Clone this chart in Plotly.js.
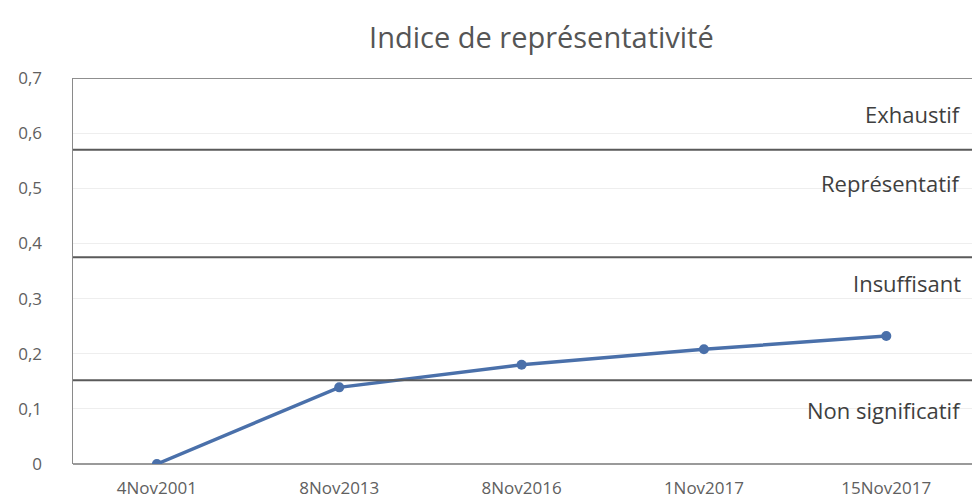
<!DOCTYPE html>
<html>
<head>
<meta charset="utf-8">
<script src="https://cdn.plot.ly/plotly-3.0.1.min.js"></script>
<style>html,body{margin:0;padding:0;background:#fff;}#chart{width:972px;height:504px;}</style>
</head>
<body>
<div id="chart"></div>
<script>
const categories = ["4Nov2001", "8Nov2013", "8Nov2016", "1Nov2017", "15Nov2017"];
const indice = [0, 0.139, 0.180, 0.208, 0.232];
const seuils = [0.152, 0.375, 0.57];
const zones = ["Non significatif", "Insuffisant", "Représentatif", "Exhaustif"];
const zoneLabelY = [0.098, 0.329, 0.509, 0.635];
const yTicks = [0, 0.1, 0.2, 0.3, 0.4, 0.5, 0.6, 0.7];

const font = "'Open Sans', 'Noto Sans', sans-serif";

const trace = {
  x: [0, 1, 2, 3, 4],
  y: indice,
  type: "scatter",
  mode: "lines+markers",
  line: {color: "#4a70aa", width: 3.5},
  marker: {color: "#4a70aa", size: 10},
  hoverinfo: "skip"
};

const shapes = seuils.map(v => ({
  type: "line", xref: "paper", x0: 0, x1: 1, yref: "y", y0: v, y1: v,
  line: {color: "#5a5a5a", width: 2}
}));
shapes.push({type: "line", xref: "paper", x0: 0, x1: 1, yref: "y", y0: 0.7, y1: 0.7,
  line: {color: "#6a6a6a", width: 1.5}});

const annotations = zones.map((t, i) => ({
  text: t, xref: "paper", x: 0.99, xanchor: "right",
  yref: "y", y: zoneLabelY[i], yanchor: "middle",
  showarrow: false, font: {family: font, size: 22, color: "#3f3f3f"}
}));

const layout = {
  width: 972, height: 504,
  margin: {l: 73, r: 0, t: 78, b: 40},
  paper_bgcolor: "#ffffff", plot_bgcolor: "#ffffff",
  showlegend: false,
  title: {text: "Indice de représentativité", x: 0.557, xanchor: "center",
    yref: "container", y: 0.925, yanchor: "middle",
    font: {family: font, size: 29, color: "#555555"}},
  separators: ",.",
  xaxis: {
    range: [-0.46, 4.47], tickmode: "array", tickvals: [0, 1, 2, 3, 4], ticktext: categories,
    showgrid: false, zeroline: false, showline: false, ticks: "",
    ticklabelstandoff: 12,
    tickfont: {family: font, size: 17, color: "#606060"}, fixedrange: true
  },
  yaxis: {
    range: [0, 0.7], tickmode: "array", tickvals: yTicks,
    ticktext: yTicks.map(v => v === 0 ? "0" : v.toFixed(1).replace(".", ",")),
    showgrid: true, gridcolor: "#eeeeee", gridwidth: 1,
    zeroline: true, zerolinecolor: "#9a9a9a", zerolinewidth: 1.5,
    showline: true, linecolor: "#8a8a8a", linewidth: 1.5, ticks: "",
    ticklabelstandoff: 26,
    tickfont: {family: font, size: 17, color: "#606060"}, fixedrange: true
  },
  shapes: shapes,
  annotations: annotations
};

Plotly.newPlot("chart", [trace], layout, {displayModeBar: false, staticPlot: true});
</script>
</body>
</html>
